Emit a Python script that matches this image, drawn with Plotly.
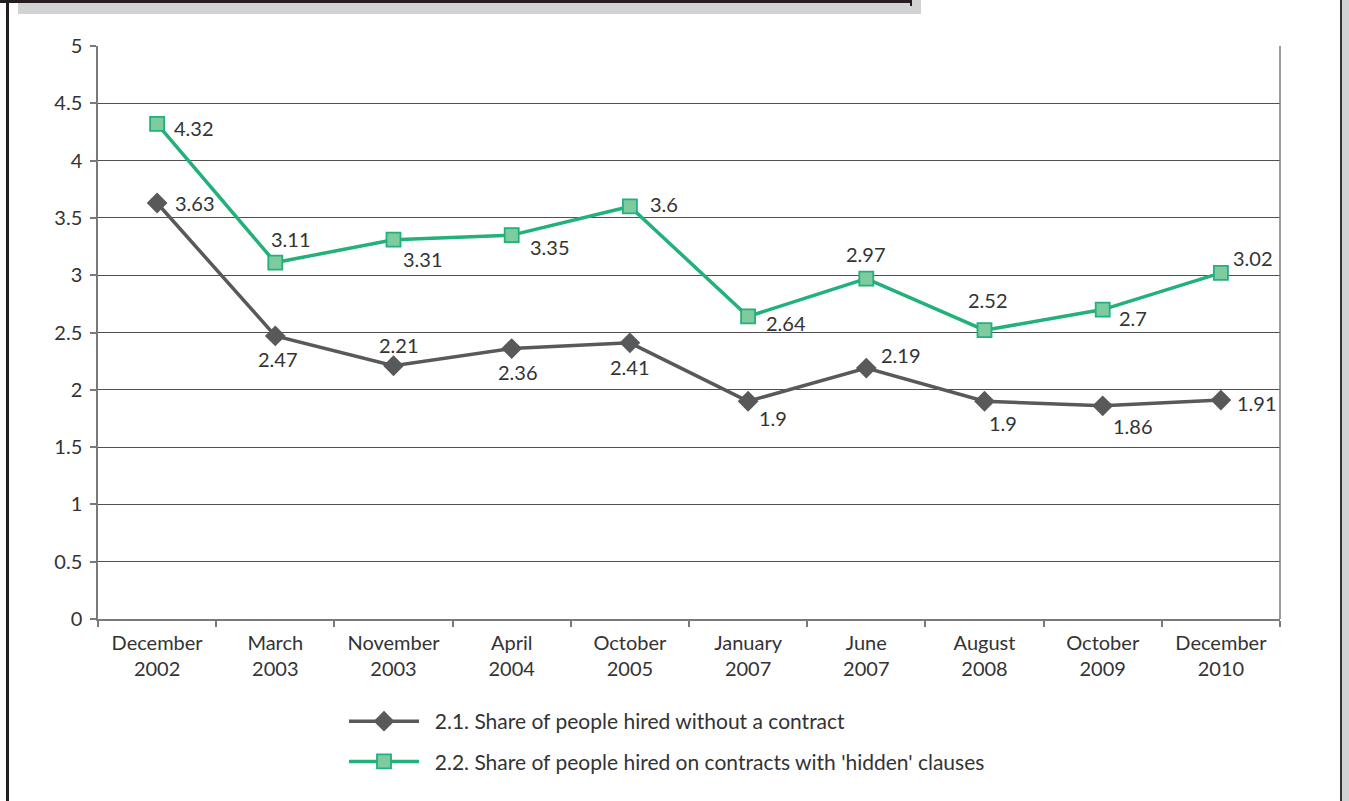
import plotly.graph_objects as go

# ---- data ----
periods = ["December<br>2002", "March<br>2003", "November<br>2003", "April<br>2004",
           "October<br>2005", "January<br>2007", "June<br>2007", "August<br>2008",
           "October<br>2009", "December<br>2010"]
no_contract = [3.63, 2.47, 2.21, 2.36, 2.41, 1.9, 2.19, 1.9, 1.86, 1.91]
hidden_clauses = [4.32, 3.11, 3.31, 3.35, 3.6, 2.64, 2.97, 2.52, 2.7, 3.02]
name_no_contract = "2.1. Share of people hired without a contract"
name_hidden = "2.2. Share of people hired on contracts with 'hidden' clauses"
y_ticks = [0, 0.5, 1, 1.5, 2, 2.5, 3, 3.5, 4, 4.5, 5]
y_tick_text = ["0", "0.5", "1", "1.5", "2", "2.5", "3", "3.5", "4", "4.5", "5"]

# ---- label offsets (px) relative to each marker ----
off_no_contract = [(38, 0), (3, -23), (5, 21), (6, -23), (0, -24),
                   (25, -17), (35, 13), (18, -22), (30, -20), (36, -3)]
off_hidden = [(37, -4), (16, 24), (29, -19), (38, -12), (34, 2),
              (38, -7), (0, 25), (3, 30), (30, -8), (32, 15)]

GRAY = "#58595b"
GREEN = "#22b07b"
GREEN_FILL = "#7dcb9f"
TEXT = "#333333"
FONT = "Lato"
FS = 20
W, H = 1349, 801
L, R, T, B = 98, 1280, 46, 619  # plot area in px

fig = go.Figure()
fig.add_trace(go.Scatter(
    x=periods, y=no_contract, name="\u00a0\u00a0" + name_no_contract, mode="lines+markers",
    line=dict(color=GRAY, width=3.5),
    marker=dict(symbol="diamond", size=16, color=GRAY, line=dict(color=GRAY, width=0)),
    legendgroup="a"))
fig.add_trace(go.Scatter(
    x=periods, y=hidden_clauses, name="\u00a0\u00a0" + name_hidden, mode="lines+markers",
    line=dict(color=GREEN, width=3.5),
    marker=dict(symbol="square", size=14, color=GREEN_FILL, line=dict(color=GREEN, width=1.8)),
    legendgroup="b"))

annotations = []
for vals, offs in ((no_contract, off_no_contract), (hidden_clauses, off_hidden)):
    for i, (v, (dx, dy)) in enumerate(zip(vals, offs)):
        annotations.append(dict(
            x=i, y=v, xref="x", yref="y", text=f"{v:g}", showarrow=False,
            xshift=dx, yshift=dy, font=dict(family=FONT, size=FS, color=TEXT)))

def px(x):
    return (x - L) / (R - L)

def py(y):
    return (B - y) / (B - T)

shapes = [
    # page frame
    dict(type="rect", xref="paper", yref="paper", x0=px(18), x1=px(921), y0=py(14), y1=py(-2),
         fillcolor="#d1d2d4", line=dict(width=0), layer="below"),
    dict(type="line", xref="paper", yref="paper", x0=px(0), x1=px(911), y0=py(1.5), y1=py(1.5),
         line=dict(color="#231f20", width=3)),
    dict(type="line", xref="paper", yref="paper", x0=px(911), x1=px(911), y0=py(0), y1=py(6),
         line=dict(color="#231f20", width=2)),
    dict(type="line", xref="paper", yref="paper", x0=px(7.5), x1=px(7.5), y0=py(0), y1=py(H),
         line=dict(color="#231f20", width=3)),
    dict(type="rect", xref="paper", yref="paper", x0=px(1342), x1=px(W + 2), y0=py(H + 2), y1=py(-2),
         fillcolor="#d1d2d4", line=dict(width=0), layer="below"),
    dict(type="line", xref="paper", yref="paper", x0=px(1341), x1=px(1341), y0=py(0), y1=py(H),
         line=dict(color="#333333", width=2)),
    # right edge of the plot area
    dict(type="line", xref="paper", yref="paper", x0=1, x1=1, y0=0, y1=1,
         line=dict(color="#7a7a7a", width=1.5)),
]

fig.update_layout(
    width=W, height=H,
    margin=dict(l=L, r=W - R, t=T, b=H - B, pad=0),
    paper_bgcolor="white", plot_bgcolor="white",
    font=dict(family=FONT, size=FS, color=TEXT),
    showlegend=True,
    legend=dict(x=px(344), y=py(701), xanchor="left", yanchor="top",
                orientation="v", itemwidth=70, tracegroupgap=10,
                font=dict(family=FONT, size=21, color=TEXT),
                bgcolor="rgba(0,0,0,0)"),
    annotations=annotations,
    shapes=shapes,
)
fig.update_xaxes(
    type="category", range=[-0.5, 9.5], tickson="boundaries",
    ticks="outside", ticklen=6, tickcolor="#7a7a7a", tickwidth=1.5,
    ticklabelstandoff=5,
    showline=True, linecolor="#7a7a7a", linewidth=1.5,
    showgrid=False, zeroline=False,
    tickfont=dict(family=FONT, size=FS, color=TEXT))
fig.update_yaxes(
    range=[0, 5], tickvals=y_ticks, ticktext=y_tick_text,
    ticks="outside", ticklen=6, tickcolor="#7a7a7a", tickwidth=1.5,
    ticklabelstandoff=4,
    showline=True, linecolor="#7a7a7a", linewidth=1.5,
    showgrid=True, gridcolor="#505050", gridwidth=1, zeroline=False,
    tickfont=dict(family=FONT, size=FS, color=TEXT))

fig.write_html("out.html")
